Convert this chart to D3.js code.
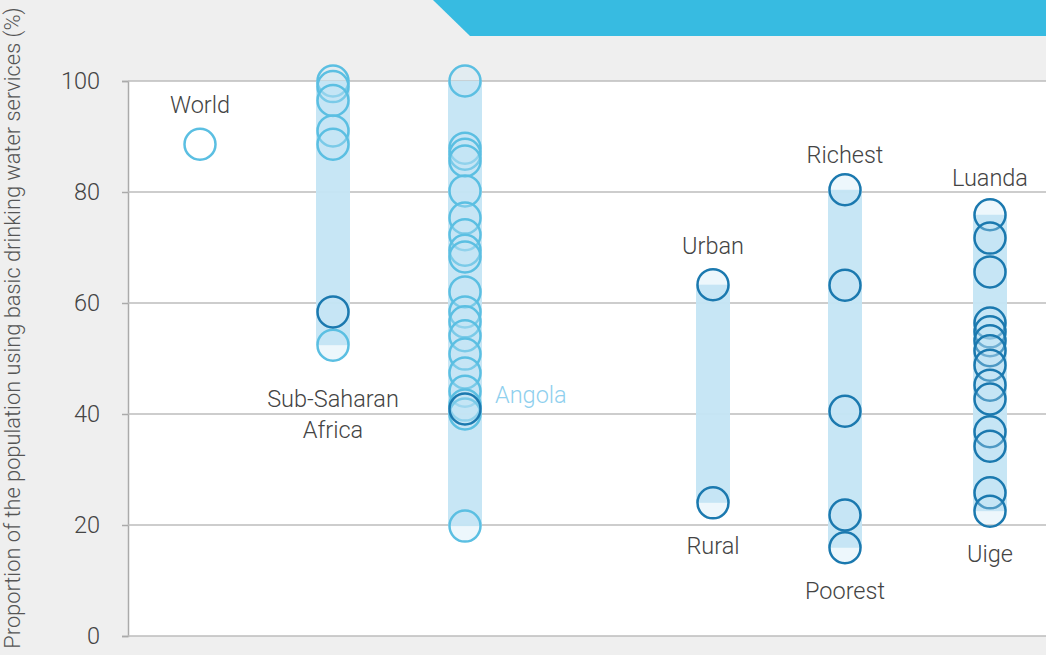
<!DOCTYPE html>
<html>
<head>
<meta charset="utf-8">
<script src="https://cdn.jsdelivr.net/npm/d3@7"></script>
<style>
  html, body { margin: 0; padding: 0; background: #efefef; }
  svg { display: block; }
  text { font-family: Roboto, "Noto Sans", sans-serif; }
</style>
</head>
<body>
<svg id="chart" width="1046" height="655"></svg>
<script>
// ---------------- DATA ----------------
const groups = ["World", "Sub-Saharan Africa", "Angola", "Residence", "Wealth", "Province"];
const yTicks = [0, 20, 40, 60, 80, 100];
const yTickLabels = ["0", "20", "40", "60", "80", "100"];
const yTitle = "Proportion of the population using basic drinking water services (%)";

const worldValues = [88.6];
const ssaValues = [100, 99, 96.5, 91, 88.6, 52.4];
const ssaAverage = [58.4];
const angolaValues = [100, 87.9, 86.8, 85.6, 80.2, 75.3, 72.3, 69.5, 68.3, 62.0, 58.4, 56.6, 54.1, 50.8, 47.4, 44.1, 41.6, 40.0, 19.8];
const angolaAverage = [40.9];
const residenceValues = [63.3, 24.0];        // Urban, Rural
const wealthValues = [80.4, 63.2, 40.5, 21.8, 15.9]; // Richest ... Poorest
const provinceValues = [75.9, 71.7, 65.6, 56.4, 54.8, 53.2, 51.4, 48.8, 45.2, 42.7, 36.8, 34.2, 25.8, 22.5]; // Luanda ... Uige

const topLabels = ["World", null, null, "Urban", "Richest", "Luanda"];
const bottomLabels = [null, ["Sub-Saharan", "Africa"], null, ["Rural"], ["Poorest"], ["Uige"]];
const sideLabel = "Angola";

// ---------------- LAYOUT ----------------
const svg = d3.select("#chart");
const W = 1046, H = 655;
const plotLeft = 128, plotRight = 1046, plotTop = 81, plotBottom = 636;
const R = 15.5;
const light = "#5bbfe2", dark = "#1b79af", band = "#c4e5f4";

const y = d3.scaleLinear().domain([0, 100]).range([plotBottom, plotTop]);
const x = d3.scaleOrdinal().domain(groups).range([200, 333, 465, 713, 845, 990]);

// banner
svg.append("polygon")
  .attr("points", [[433, 0], [470, 36], [W, 36], [W, 0]].map(p => p.join(",")).join(" "))
  .attr("fill", "#37bbe1");

// plot background
svg.append("rect")
  .attr("x", plotLeft).attr("y", plotTop)
  .attr("width", plotRight - plotLeft).attr("height", plotBottom - plotTop)
  .attr("fill", "#ffffff");

// gridlines + axis
const axis = d3.axisLeft(y).tickValues(yTicks)
  .tickFormat((d, i) => yTickLabels[i])
  .tickSize(6).tickPadding(22);
const gAxis = svg.append("g").attr("transform", `translate(${plotLeft},0)`).call(axis);
gAxis.select(".domain").attr("stroke", "#aaaaaa").attr("stroke-width", 1.5);
gAxis.selectAll(".tick line").attr("stroke", "#aaaaaa").attr("stroke-width", 1.5);
gAxis.selectAll(".tick text")
  .attr("font-size", 23.5).attr("font-weight", 300).attr("fill", "#444")
  .attr("font-family", "Roboto, sans-serif");

svg.append("g").selectAll("line").data(yTicks).join("line")
  .attr("x1", plotLeft).attr("x2", plotRight)
  .attr("y1", d => y(d)).attr("y2", d => y(d))
  .attr("stroke", "#bdbdbd").attr("stroke-width", 1.5);

// y title
svg.append("text")
  .attr("transform", `translate(20,328) rotate(-90)`)
  .attr("text-anchor", "middle")
  .attr("font-size", 21.8).attr("font-weight", 300).attr("fill", "#555")
  .text(yTitle);

// series
const series = [
  { g: "World", values: worldValues, avg: [], color: light, band: false },
  { g: "Sub-Saharan Africa", values: ssaValues, avg: ssaAverage, color: light, band: true },
  { g: "Angola", values: angolaValues, avg: angolaAverage, color: light, band: true },
  { g: "Residence", values: residenceValues, avg: [], color: dark, band: true },
  { g: "Wealth", values: wealthValues, avg: [], color: dark, band: true },
  { g: "Province", values: provinceValues, avg: [], color: dark, band: true }
];

const gBands = svg.append("g");
series.filter(s => s.band).forEach(s => {
  const all = s.values.concat(s.avg);
  const hi = d3.max(all), lo = d3.min(all);
  gBands.append("rect")
    .attr("x", x(s.g) - R - 1.5).attr("width", 2 * R + 3)
    .attr("y", y(hi)).attr("height", y(lo) - y(hi))
    .attr("fill", band).attr("opacity", 0.95);
});

const gDots = svg.append("g");
series.forEach(s => {
  gDots.selectAll(null).data(s.values).join("circle")
    .attr("cx", x(s.g)).attr("cy", d => y(d)).attr("r", R)
    .attr("fill", s.band ? band : "#ffffff").attr("fill-opacity", s.band ? 0.3 : 1)
    .attr("stroke", s.color).attr("stroke-width", 2.5);
  gDots.selectAll(null).data(s.avg).join("circle")
    .attr("cx", x(s.g)).attr("cy", d => y(d)).attr("r", R)
    .attr("fill", band).attr("fill-opacity", 0.3)
    .attr("stroke", dark).attr("stroke-width", 2.5);
});

// labels
const bottomOffset = [0, 62, 0, 51, 51, 51];
const topOffset = [0, 0, 0, 31, 27, 29];
const gLab = svg.append("g").attr("font-size", 23.5).attr("font-weight", 300).attr("fill", "#444").attr("text-anchor", "middle");
series.forEach((s, i) => {
  const all = s.values.concat(s.avg);
  if (topLabels[i]) {
    gLab.append("text").attr("x", x(s.g)).attr("y", y(d3.max(all)) - (topOffset[i] || 31)).text(topLabels[i]);
  }
  if (bottomLabels[i]) {
    bottomLabels[i].forEach((t, j) => {
      gLab.append("text").attr("x", x(s.g)).attr("y", y(d3.min(all)) + bottomOffset[i] + j * 31).text(t);
    });
  }
});
gLab.append("text").attr("x", x("Angola") + 30).attr("y", y(angolaAverage[0]) - 6)
  .attr("text-anchor", "start").attr("fill", "#8fd0ee").text(sideLabel);
</script>
</body>
</html>
